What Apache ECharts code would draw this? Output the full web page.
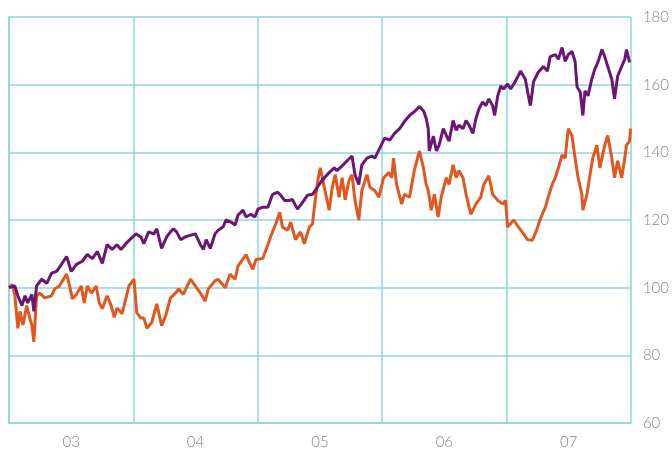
<!DOCTYPE html>
<html>
<head>
<meta charset="utf-8">
<script src="https://cdn.jsdelivr.net/npm/echarts@6/dist/echarts.min.js"></script>
<style>
  html, body { margin: 0; padding: 0; background: #fff; }
  #main { width: 672px; height: 450px; }
</style>
</head>
<body>
<div id="main"></div>
<script>
var chartDom = document.getElementById('main');
var myChart = echarts.init(chartDom);
var option;

// year labels (one per band)
const years = ['03', '04', '05', '06', '07'];

// days since start of 2003
const purpleDays = [0, 17, 26, 38, 47, 55, 67, 73, 81, 96, 111, 125, 140, 154, 169, 183, 198, 215, 230, 245,
  259, 274, 288, 303, 317, 329, 343, 358, 373, 387, 396, 410, 425, 434, 448, 463, 474, 483, 492, 504,
  518, 536, 547, 562, 571, 579, 591, 605, 614, 629, 637, 652, 664, 672, 687, 696, 710, 722, 731, 745,
  760, 774, 789, 798, 809, 824, 832, 847, 862, 876, 891, 905, 914, 926, 940, 955, 963, 978, 993, 1007,
  1016, 1027, 1036, 1051, 1065, 1074, 1089, 1103, 1118, 1132, 1147, 1161, 1176, 1190, 1205, 1217, 1225, 1231, 1234, 1246,
  1255, 1263, 1275, 1284, 1292, 1304, 1313, 1321, 1333, 1342, 1351, 1362, 1371, 1380, 1391, 1400, 1409, 1420, 1426, 1435,
  1444, 1452, 1464, 1473, 1487, 1502, 1511, 1516, 1525, 1531, 1540, 1554, 1569, 1581, 1589, 1604, 1613, 1624, 1633, 1642,
  1653, 1662, 1668, 1677, 1685, 1691, 1700, 1711, 1720, 1729, 1741, 1749, 1758, 1770, 1778, 1787, 1799, 1808, 1813, 1822];
const purpleVals = [100, 100.5, 97.6, 94.7, 97.6, 95.5, 98, 93, 100.5, 102.5, 101.3, 104.3, 104.8, 106.9, 109.2, 104.8, 106.9, 107.8, 109.8, 108.6,
  110.7, 107.2, 112.7, 111.3, 112.7, 111.3, 113, 114.5, 115.9, 115, 113, 116.5, 115.9, 117.4, 111.6, 115, 116.5, 117.4, 116.5, 114.2,
  115, 115.6, 115.9, 112.7, 111.3, 114.2, 111.6, 115.9, 117, 118, 120, 119.4, 118.5, 121.4, 122.9, 120.9, 121.7, 120.9, 123.2, 123.8,
  123.8, 127.6, 128.2, 127.3, 125.8, 125.8, 126.1, 123.2, 125.2, 127.3, 127.6, 129.6, 131, 132.5, 134, 135.4, 134.6, 136, 137.5, 138.9,
  133.4, 130.5, 136.3, 138.3, 138.9, 138.3, 141.3, 144.2, 143.6, 145.6, 147, 149.1, 150.9, 152, 153.5, 152.3, 150, 147, 140.4, 144.8,
  140.4, 142.1, 147, 145, 143.3, 149.4, 146.5, 148, 147, 149.4, 148, 145.6, 150, 152.9, 154.9, 153.8, 155.8, 153.8, 150.9, 156.7,
  159.6, 158.7, 160.2, 158.7, 161, 164, 162.5, 161.6, 156.7, 153.8, 160.8, 163.7, 165.4, 164, 168.3, 168.9, 167.5, 171, 166.9, 168.9,
  169.8, 166.9, 159.3, 157.9, 150.9, 158.2, 156.7, 161.6, 164.6, 166.6, 170.4, 168.3, 165.4, 161.6, 155.8, 162.5, 165.4, 167.5, 170.4, 166.6];

const orangeDays = [0, 9, 17, 26, 32, 41, 52, 61, 67, 73, 81, 90, 105, 125, 134, 148, 169, 178, 186, 198,
  212, 221, 230, 242, 256, 265, 274, 288, 300, 309, 317, 332, 343, 352, 367, 375, 387, 396, 405, 419,
  434, 448, 460, 474, 489, 498, 512, 533, 547, 562, 576, 585, 605, 614, 635, 649, 664, 672, 696, 707,
  716, 725, 745, 760, 768, 783, 795, 803, 818, 827, 841, 856, 867, 882, 891, 899, 908, 914, 926, 940,
  949, 958, 969, 978, 987, 998, 1007, 1016, 1027, 1036, 1051, 1060, 1074, 1086, 1100, 1115, 1124, 1129, 1138, 1153,
  1161, 1176, 1190, 1205, 1217, 1225, 1231, 1240, 1249, 1260, 1269, 1284, 1292, 1304, 1313, 1321, 1333, 1342, 1356, 1371,
  1385, 1394, 1409, 1420, 1435, 1450, 1458, 1464, 1482, 1496, 1511, 1522, 1537, 1549, 1560, 1575, 1583, 1595, 1604, 1613,
  1624, 1633, 1642, 1653, 1662, 1671, 1682, 1685, 1697, 1706, 1714, 1726, 1735, 1749, 1758, 1770, 1778, 1787, 1799, 1808,
  1813, 1822, 1825];
const orangeVals = [100, 101, 98, 88, 93, 89, 94.7, 91, 89, 84, 97.6, 98.4, 97, 97.6, 99.6, 100.5, 104, 100.5, 96.7, 98,
  100.5, 95.5, 100.5, 98.4, 100.5, 95.5, 93.8, 97.6, 94.7, 91.2, 94, 92.3, 96.7, 100.5, 102.5, 92.6, 91, 91, 88, 89.7,
  95.2, 88.8, 91.7, 97, 98.4, 99.6, 98, 102.5, 100.5, 98.4, 96, 99.6, 102, 102.5, 100, 104, 102.5, 106.3, 109.8, 107.2,
  105.4, 108.3, 108.6, 112.7, 115, 118.8, 122.3, 117.9, 117, 119.4, 114.2, 116.5, 113, 117.9, 118.8, 125.8, 132.5, 135.4, 129.6, 122.9,
  129.6, 133.4, 126.7, 132.5, 126, 131.6, 133.4, 125.8, 120, 128.7, 133.4, 129.6, 128.7, 126.7, 132.5, 134, 132.5, 138.3, 130.5, 124.7,
  127.6, 126.7, 134.6, 140.4, 135.4, 130.5, 128.7, 122.9, 127.6, 120.9, 126.7, 132.5, 130.5, 136.3, 132.5, 134.6, 132.5, 127.6, 121.7, 124.7,
  126.7, 130.5, 133.1, 127.6, 125.8, 124.7, 125.8, 117.9, 120, 117.9, 115.9, 114.2, 114, 117, 120.3, 123.8, 126.7, 130.5, 132.5, 135.4,
  139.2, 138.3, 147, 145, 138.3, 132.5, 127.6, 122.9, 127.6, 133.4, 138.3, 142.1, 135.4, 142.1, 145, 138.3, 132.5, 137.5, 132.5, 138.3,
  142.1, 143.3, 147];

const gridColor = '#8ed3e1';
const labelFont = { color: '#858585', fontSize: 15, fontWeight: 300, fontFamily: 'Lato, "DejaVu Sans", sans-serif' };

function pairs(days, vals) {
  return days.map(function (d, i) { return [d, vals[i]]; });
}

option = {
  animation: false,
  backgroundColor: '#fff',
  grid: { left: 9, right: 36, top: 17, bottom: 21, containLabel: false },
  xAxis: [
    {
      type: 'value',
      min: 0,
      max: 1826,
      interval: 365.2,
      axisLabel: { show: false },
      axisTick: { show: false },
      axisLine: { show: true, lineStyle: { color: gridColor, width: 1.5 } },
      splitLine: { show: true, lineStyle: { color: gridColor, width: 1.5 } }
    },
    {
      type: 'category',
      position: 'bottom',
      data: years,
      boundaryGap: true,
      axisLine: { show: false },
      axisTick: { show: false },
      splitLine: { show: false },
      axisLabel: Object.assign({ margin: 12 }, labelFont)
    }
  ],
  yAxis: {
    type: 'value',
    position: 'right',
    min: 60,
    max: 180,
    interval: 20,
    axisLine: { show: true, lineStyle: { color: gridColor, width: 1.5 } },
    axisTick: { show: false },
    axisLabel: Object.assign({ margin: 12 }, labelFont),
    splitLine: { show: true, lineStyle: { color: gridColor, width: 1.5 } }
  },
  series: [
    {
      type: 'line',
      xAxisIndex: 0,
      data: pairs(orangeDays, orangeVals),
      showSymbol: false,
      lineStyle: { color: '#e0571f', width: 3 },
      z: 3
    },
    {
      type: 'line',
      xAxisIndex: 0,
      data: pairs(purpleDays, purpleVals),
      showSymbol: false,
      lineStyle: { color: '#6c1673', width: 3 },
      z: 4
    }
  ]
};

option && myChart.setOption(option);
</script>
</body>
</html>
